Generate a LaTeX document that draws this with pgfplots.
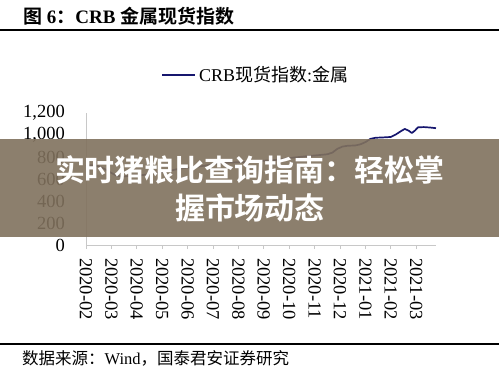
\documentclass[border=0pt]{standalone}
\usepackage{fontspec}
\usepackage{pgfplots}
\pgfplotsset{compat=1.18}
\setmainfont{Liberation Serif}
\newfontfamily\cjk[BoldFont={Noto Sans CJK SC Bold}]{Noto Sans CJK SC}
\definecolor{navy}{RGB}{22,22,110}
\definecolor{banner}{RGB}{128,113,93}
\definecolor{axgray}{RGB}{200,200,200}
\begin{document}
\begin{tikzpicture}[x=1pt,y=1pt]
\path[use as bounding box] (0,0) rectangle (499,376);
% title
\node[anchor=west,inner sep=0pt] at (23,360) {\fontsize{19}{21}\selectfont\bfseries{\cjk 图} 6{\cjk ：}CRB {\cjk 金属现货指数}};
\draw[line width=1.3pt] (0,346) -- (499,346);
% legend
\draw[navy,line width=2pt] (162,301) -- (195,301);
\node[anchor=west,inner sep=0pt] at (199,301) {\fontsize{18}{20}\selectfont CRB{\cjk 现货指数}:{\cjk 金属}};
\begin{axis}[
  at={(86pt,131pt)}, anchor=south west,
  scale only axis, width=350pt, height=132pt,
  xmin=0, xmax=13.78, ymin=0, ymax=1200,
  axis x line*=bottom, axis y line*=left,
  axis line style={axgray,line width=0.8pt,-},
  xtick={0,...,13},
  xticklabels={2020-02,2020-03,2020-04,2020-05,2020-06,2020-07,2020-08,2020-09,2020-10,2020-11,2020-12,2021-01,2021-02,2021-03},
  ytick={0,200,...,1200},
  x tick style={axgray,line width=0.8pt},
  tick align=outside, major tick length=4pt,
  y tick style={draw=none},
  /pgf/number format/assume math mode=true,
  /pgf/number format/1000 sep={,},
  tick label style={font=\fontsize{18.5}{20}\selectfont},
  xticklabel style={rotate=-90,anchor=west,inner sep=0pt},
  xticklabel shift=9pt,
  yticklabel style={inner sep=0pt,anchor=east},
  yticklabel shift=17pt,
  clip=false,
]
\addplot[navy,line width=1.7pt,line join=round] coordinates {
(0,727)(0.25,725)(0.5,715)(0.75,690)(1.0,655)(1.2,630)(1.45,622)(1.7,628)(2.0,630)(2.3,638)(2.6,648)(2.9,660)(3.2,670)(3.5,685)(3.8,698)(4.1,705)(4.4,712)(4.7,722)(5.0,735)(5.3,742)(5.6,748)(5.9,752)(6.2,755)(6.5,758)(6.8,762)(7.1,768)(7.4,772)(7.7,780)(8.0,790)(8.3,798)(8.6,805)(8.9,812)(9.2,818)(9.5,825)(9.7,840)(9.9,875)(10.1,895)(10.3,902)(10.6,905)(10.8,915)(11.0,935)(11.2,965)(11.4,975)(11.7,978)(12.0,982)(12.2,1005)(12.4,1035)(12.55,1055)(12.7,1040)(12.83,1018)(12.95,1040)(13.07,1070)(13.3,1072)(13.55,1068)(13.78,1062)
};
\end{axis}
% footer
\draw[line width=1.3pt] (0,32) -- (499,32);
\node[anchor=west,inner sep=0pt] at (22,18) {\fontsize{16.5}{18}\selectfont{\cjk 数据来源：}Wind{\cjk ，国泰君安证券研究}};
% banner
\fill[banner,opacity=0.9] (0,139) rectangle (499,237);
\node[white,inner sep=0pt] at (250,206) {\fontsize{30}{32}\selectfont\cjk\bfseries 实时猪粮比查询指南：轻松掌};
\node[white,inner sep=0pt] at (250,168) {\fontsize{30}{32}\selectfont\cjk\bfseries 握市场动态};
\end{tikzpicture}
\end{document}
